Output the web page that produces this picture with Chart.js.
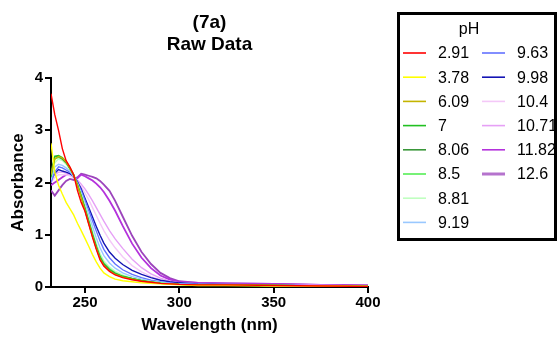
<!DOCTYPE html>
<html>
<head>
<meta charset="utf-8">
<script src="https://cdn.jsdelivr.net/npm/chart.js@4"></script>
<style>
  html, body { margin: 0; padding: 0; background: #fff; }
  #wrap { width: 560px; height: 338px; position: relative; }
</style>
</head>
<body>
<div id="wrap"><canvas id="chart"></canvas></div>
<script>
// Wavelengths (nm)
const wavelengths = [232, 234, 236, 238, 240, 242, 244, 246, 248, 250, 252, 254, 256, 258, 260, 263, 266, 270, 275, 280, 285, 290, 295, 300, 310, 325, 350, 375, 400];

// pH labels and line colours
const phLabels = ["2.91", "3.78", "6.09", "7", "8.06", "8.5", "8.81", "9.19", "9.63", "9.98", "10.4", "10.71", "11.82", "12.6"];
const phColors = ["#ff0000", "#ffff00", "#c4b400", "#22c022", "#3a973a", "#55ee55", "#c0ffc0", "#99c8ff", "#6272ff", "#1414b4", "#f4c8f8", "#e6a0f6", "#b432dc", "#9c44bc"];

// Absorbance per pH
const abs291  = [3.70, 3.30, 3.00, 2.65, 2.42, 2.30, 2.15, 1.85, 1.62, 1.45, 1.20, 0.95, 0.72, 0.52, 0.40, 0.30, 0.23, 0.18, 0.14, 0.11, 0.09, 0.07, 0.06, 0.05, 0.04, 0.04, 0.03, 0.02, 0.01];
const abs378  = [2.75, 2.20, 1.95, 1.78, 1.62, 1.50, 1.38, 1.22, 1.08, 0.93, 0.78, 0.62, 0.48, 0.36, 0.27, 0.20, 0.15, 0.12, 0.10, 0.08, 0.07, 0.06, 0.05, 0.04, 0.03, 0.03, 0.02, 0.02, 0.01];
const abs609  = [2.15, 2.45, 2.50, 2.47, 2.40, 2.28, 2.15, 1.95, 1.72, 1.47, 1.22, 0.97, 0.74, 0.54, 0.41, 0.31, 0.24, 0.19, 0.15, 0.11, 0.09, 0.07, 0.06, 0.05, 0.04, 0.04, 0.03, 0.02, 0.01];
const abs7    = [2.10, 2.50, 2.52, 2.48, 2.40, 2.28, 2.15, 1.95, 1.73, 1.48, 1.23, 0.98, 0.75, 0.55, 0.42, 0.32, 0.25, 0.20, 0.16, 0.12, 0.09, 0.07, 0.06, 0.05, 0.04, 0.04, 0.03, 0.02, 0.01];
const abs806  = [2.20, 2.50, 2.50, 2.45, 2.38, 2.27, 2.14, 1.95, 1.74, 1.50, 1.25, 1.00, 0.77, 0.57, 0.44, 0.33, 0.26, 0.20, 0.16, 0.12, 0.09, 0.07, 0.06, 0.05, 0.04, 0.04, 0.03, 0.02, 0.01];
const abs85   = [2.15, 2.45, 2.48, 2.45, 2.38, 2.27, 2.15, 1.96, 1.75, 1.52, 1.27, 1.02, 0.79, 0.59, 0.46, 0.35, 0.27, 0.21, 0.16, 0.12, 0.10, 0.08, 0.06, 0.05, 0.04, 0.04, 0.03, 0.02, 0.01];
const abs881  = [2.10, 2.38, 2.45, 2.42, 2.35, 2.25, 2.14, 1.96, 1.77, 1.55, 1.31, 1.07, 0.84, 0.64, 0.50, 0.38, 0.30, 0.23, 0.17, 0.13, 0.10, 0.08, 0.06, 0.05, 0.04, 0.04, 0.03, 0.02, 0.01];
const abs919  = [2.05, 2.30, 2.35, 2.33, 2.28, 2.22, 2.12, 1.98, 1.80, 1.60, 1.38, 1.16, 0.94, 0.75, 0.60, 0.46, 0.36, 0.27, 0.20, 0.15, 0.11, 0.09, 0.07, 0.06, 0.05, 0.04, 0.03, 0.02, 0.01];
const abs963  = [2.00, 2.20, 2.30, 2.28, 2.24, 2.20, 2.12, 2.00, 1.84, 1.66, 1.47, 1.27, 1.07, 0.88, 0.72, 0.56, 0.44, 0.33, 0.24, 0.18, 0.13, 0.10, 0.08, 0.06, 0.05, 0.04, 0.03, 0.02, 0.01];
const abs998  = [2.05, 2.18, 2.25, 2.22, 2.20, 2.17, 2.12, 2.02, 1.88, 1.70, 1.52, 1.34, 1.16, 0.99, 0.84, 0.67, 0.55, 0.43, 0.32, 0.24, 0.18, 0.13, 0.10, 0.08, 0.06, 0.05, 0.04, 0.02, 0.01];
const abs104  = [2.00, 2.10, 2.15, 2.15, 2.15, 2.13, 2.10, 2.00, 1.92, 1.80, 1.67, 1.52, 1.37, 1.22, 1.08, 0.90, 0.75, 0.58, 0.41, 0.29, 0.20, 0.14, 0.10, 0.08, 0.06, 0.05, 0.04, 0.03, 0.02];
const abs1071 = [2.05, 2.15, 2.20, 2.20, 2.18, 2.15, 2.10, 2.05, 1.97, 1.88, 1.77, 1.65, 1.52, 1.39, 1.26, 1.08, 0.92, 0.74, 0.53, 0.37, 0.25, 0.17, 0.11, 0.08, 0.06, 0.05, 0.04, 0.03, 0.02];
const abs1182 = [1.95, 2.00, 2.05, 2.10, 2.15, 2.17, 2.10, 2.08, 2.15, 2.12, 2.08, 2.04, 1.98, 1.91, 1.82, 1.65, 1.46, 1.17, 0.83, 0.56, 0.36, 0.22, 0.14, 0.10, 0.08, 0.07, 0.06, 0.04, 0.03];
const abs126  = [1.85, 1.75, 1.85, 1.95, 2.03, 2.07, 2.05, 2.10, 2.17, 2.15, 2.13, 2.11, 2.08, 2.03, 1.96, 1.84, 1.65, 1.35, 0.98, 0.67, 0.44, 0.27, 0.17, 0.11, 0.08, 0.07, 0.06, 0.04, 0.03];

const seriesValues = [abs291, abs378, abs609, abs7, abs806, abs85, abs881, abs919, abs963, abs998, abs104, abs1071, abs1182, abs126];

const xTickValues = [250, 300, 350, 400];
const fontFamily = "Arial, 'Liberation Sans', sans-serif";

const datasets = phLabels.map((label, i) => ({
  label: label,
  data: wavelengths.map((w, j) => ({ x: w, y: seriesValues[i][j] })),
  borderColor: phColors[i],
  backgroundColor: phColors[i],
  borderWidth: i >= 12 ? 1.8 : 1.4,
  pointRadius: 0,
  fill: false,
  tension: 0
}));

// Two column legend with "pH" title, drawn in a box on the right
const boxLegend = {
  id: "boxLegend",
  afterDraw(chart) {
    const ctx = chart.ctx;
    ctx.save();
    ctx.strokeStyle = "#000";
    ctx.lineWidth = 3;
    ctx.strokeRect(398.5, 13.5, 157, 226);
    ctx.fillStyle = "#000";
    ctx.font = "16px " + fontFamily;
    ctx.textAlign = "center";
    ctx.textBaseline = "middle";
    ctx.fillText("pH", 469, 30);
    ctx.textAlign = "left";
    chart.data.datasets.forEach((ds, i) => {
      const col = i < 8 ? 0 : 1;
      const row = col === 0 ? i : i - 8;
      const y = 53 + row * 24.2;
      const x = col === 0 ? 403 : 482;
      ctx.strokeStyle = ds.borderColor;
      ctx.globalAlpha = i === 13 ? 0.75 : 1;
      ctx.lineWidth = i === 13 ? 3 : 1.6;
      ctx.beginPath();
      ctx.moveTo(x, y);
      ctx.lineTo(x + 23, y);
      ctx.stroke();
      ctx.globalAlpha = 1;
      ctx.fillStyle = "#000";
      ctx.fillText(ds.label, col === 0 ? 438 : 517, y + 1);
    });
    ctx.restore();
  }
};

new Chart(document.getElementById("chart"), {
  type: "line",
  data: { datasets: datasets },
  options: {
    responsive: true,
    maintainAspectRatio: false,
    animation: false,
    layout: { padding: { left: 0, right: 192, top: 0, bottom: 0 } },
    plugins: {
      legend: { display: false },
      tooltip: { enabled: false },
      title: {
        display: true,
        fullSize: false,
        text: ["(7a)", "Raw Data"],
        color: "#000",
        font: { family: fontFamily, size: 19, weight: "bold", lineHeight: 1.16 },
        padding: { top: 12, bottom: 22 }
      }
    },
    scales: {
      x: {
        type: "linear",
        min: 232,
        max: 400,
        afterBuildTicks: scale => { scale.ticks = xTickValues.map(v => ({ value: v })); },
        afterFit: scale => { scale.height = 51; },
        border: { display: true, color: "#000", width: 2 },
        grid: { display: true, drawOnChartArea: false, drawTicks: true, tickLength: 6, color: "#000", lineWidth: 2 },
        ticks: { color: "#000", padding: 1, maxRotation: 0, font: { family: fontFamily, size: 15, weight: "bold" } },
        title: {
          display: true,
          text: "Wavelength (nm)",
          color: "#000",
          font: { family: fontFamily, size: 17, weight: "bold", lineHeight: 1.2 },
          padding: { top: 0, bottom: 2 }
        }
      },
      y: {
        min: 0,
        max: 4,
        afterFit: scale => { scale.width = 51; },
        border: { display: true, color: "#000", width: 2 },
        grid: { display: true, drawOnChartArea: false, drawTicks: true, tickLength: 6, color: "#000", lineWidth: 2 },
        ticks: { color: "#000", stepSize: 1, padding: 2, font: { family: fontFamily, size: 15, weight: "bold" } },
        title: {
          display: true,
          text: "Absorbance",
          color: "#000",
          font: { family: fontFamily, size: 17, weight: "bold", lineHeight: 1.2 },
          padding: { top: 8, bottom: 0 }
        }
      }
    }
  },
  plugins: [boxLegend]
});
</script>
</body>
</html>
